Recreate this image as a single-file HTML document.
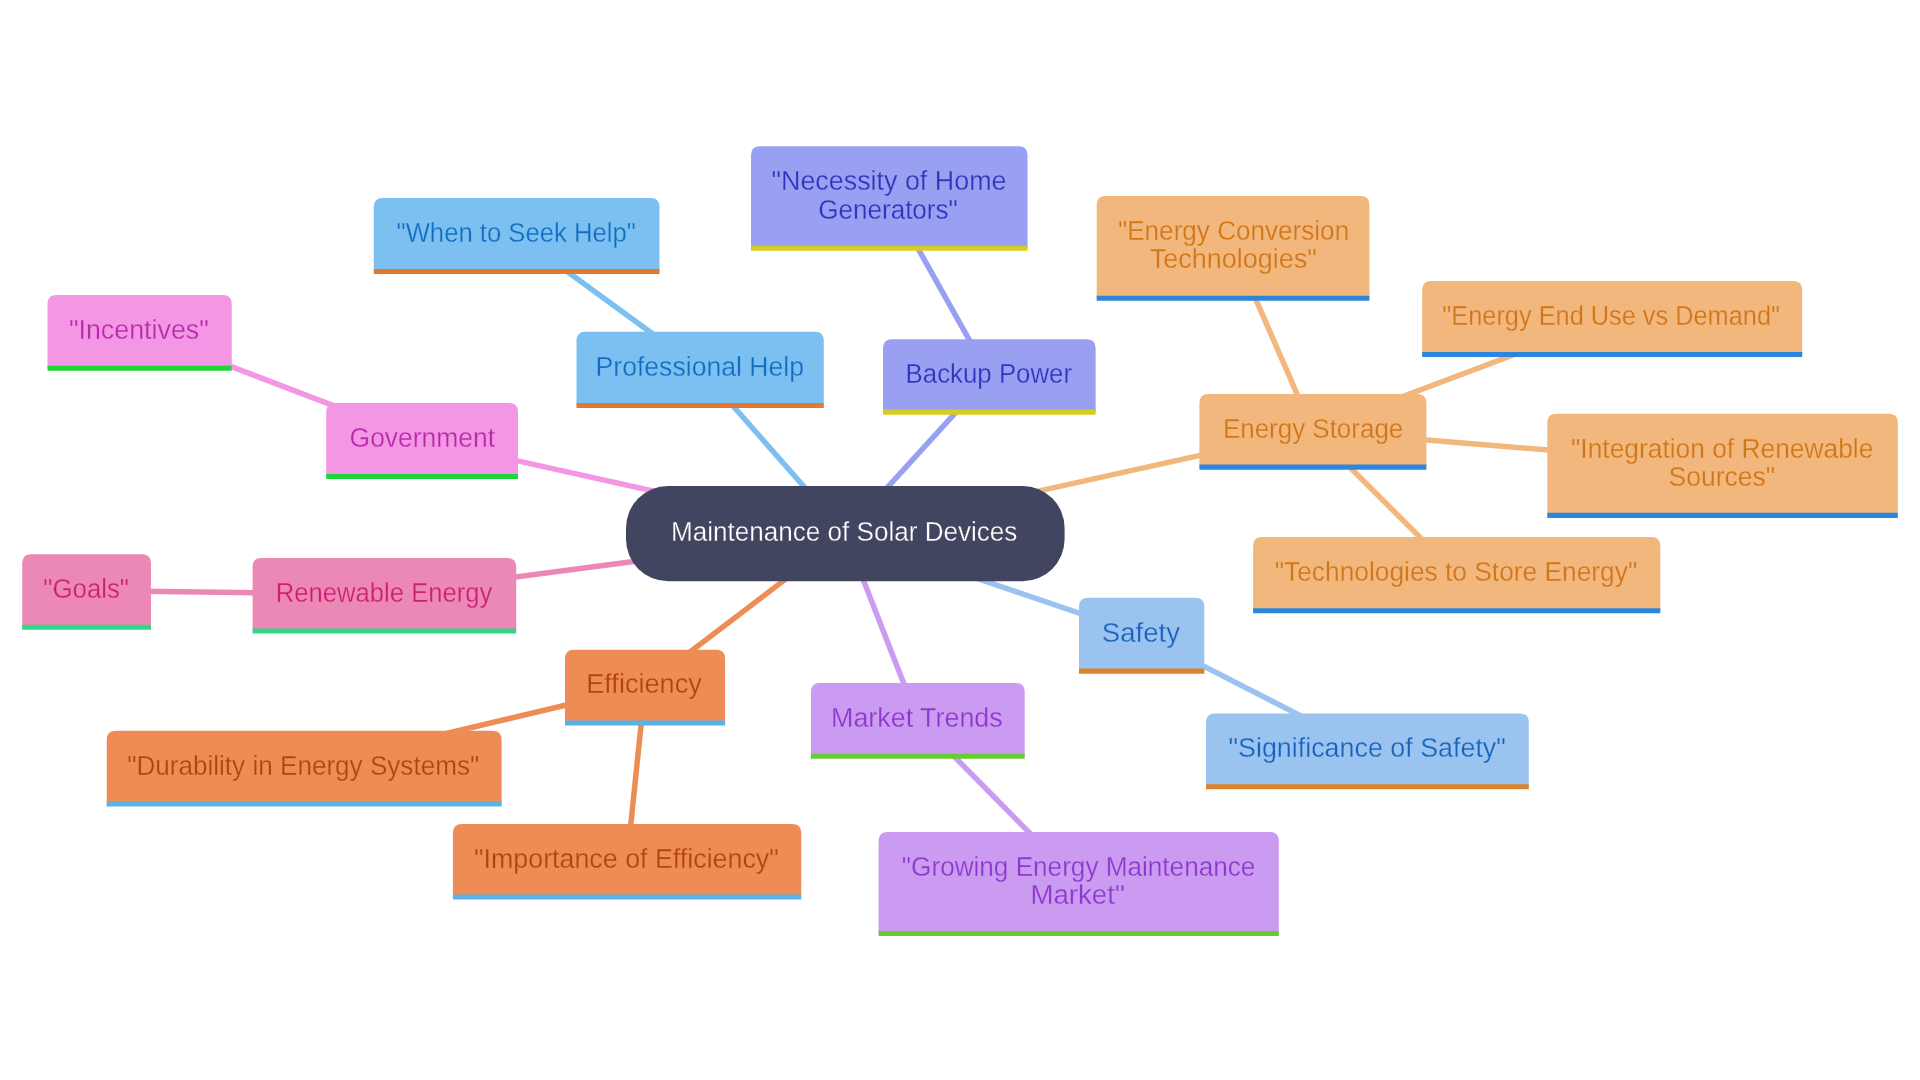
<!DOCTYPE html><html><head><meta charset="utf-8"><style>html,body{margin:0;padding:0;background:#fff;width:1920px;height:1080px;overflow:hidden}svg{display:block;will-change:transform}text{font-family:"Liberation Sans",sans-serif}</style></head><body>
<svg width="1920" height="1080" viewBox="0 0 1920 1080">
<rect width="1920" height="1080" fill="#ffffff"/>
<line x1="422.10" y1="439.62" x2="139.62" y2="331.50" stroke="#F396E3" stroke-width="5.5"/>
<line x1="845.30" y1="533.65" x2="422.10" y2="439.62" stroke="#F396E3" stroke-width="5.5"/>
<line x1="384.40" y1="594.38" x2="86.60" y2="590.60" stroke="#EC88B6" stroke-width="5.5"/>
<line x1="845.30" y1="533.65" x2="384.40" y2="594.38" stroke="#EC88B6" stroke-width="5.5"/>
<line x1="700.12" y1="368.50" x2="516.62" y2="234.62" stroke="#7CC0F2" stroke-width="5.5"/>
<line x1="845.30" y1="533.65" x2="700.12" y2="368.50" stroke="#7CC0F2" stroke-width="5.5"/>
<line x1="989.30" y1="375.57" x2="889.25" y2="197.18" stroke="#9AA0F1" stroke-width="5.5"/>
<line x1="845.30" y1="533.65" x2="989.30" y2="375.57" stroke="#9AA0F1" stroke-width="5.5"/>
<line x1="1312.90" y1="430.42" x2="1233.05" y2="247.07" stroke="#F2B77C" stroke-width="5.5"/>
<line x1="1312.90" y1="430.42" x2="1612.20" y2="317.62" stroke="#F2B77C" stroke-width="5.5"/>
<line x1="845.30" y1="533.65" x2="1312.90" y2="430.42" stroke="#F2B77C" stroke-width="5.5"/>
<line x1="1312.90" y1="430.42" x2="1722.55" y2="464.48" stroke="#F2B77C" stroke-width="5.5"/>
<line x1="1312.90" y1="430.42" x2="1456.70" y2="573.83" stroke="#F2B77C" stroke-width="5.5"/>
<line x1="845.30" y1="533.65" x2="1141.65" y2="634.38" stroke="#9BC3F0" stroke-width="5.5"/>
<line x1="1141.65" y1="634.38" x2="1367.40" y2="749.97" stroke="#9BC3F0" stroke-width="5.5"/>
<line x1="845.30" y1="533.65" x2="917.80" y2="719.58" stroke="#CB9BF1" stroke-width="5.5"/>
<line x1="917.80" y1="719.58" x2="1078.70" y2="882.62" stroke="#CB9BF1" stroke-width="5.5"/>
<line x1="845.30" y1="533.65" x2="645.05" y2="686.25" stroke="#EE8C56" stroke-width="5.5"/>
<line x1="645.05" y1="686.25" x2="304.18" y2="767.25" stroke="#EE8C56" stroke-width="5.5"/>
<line x1="645.05" y1="686.25" x2="627.08" y2="860.42" stroke="#EE8C56" stroke-width="5.5"/>
<rect x="626" y="486" width="438.5999999999999" height="95.29999999999995" rx="42" ry="42" fill="#42455F"/>
<text x="670.97" y="541.25" font-size="27" fill="#ffffff" textLength="346.40" lengthAdjust="spacingAndGlyphs" stroke="#42455F" stroke-width="0.3">Maintenance of Solar Devices</text>
<path d="M47.5 368.00 V304.00 Q47.5,295 56.50,295 H222.75 Q231.75,295 231.75,304.00 V368.00 Z" fill="#F396E3"/>
<line x1="47.5" y1="368.20" x2="231.75" y2="368.20" stroke="#1ED63A" stroke-width="5.1"/>
<text x="69.01" y="339.00" font-size="27" fill="#B82AAC" textLength="139.74" lengthAdjust="spacingAndGlyphs" stroke="#F396E3" stroke-width="0.3">"Incentives"</text>
<path d="M326.2 476.25 V412.00 Q326.2,403 335.20,403 H509.00 Q518,403 518,412.00 V476.25 Z" fill="#F396E3"/>
<line x1="326.2" y1="476.45" x2="518" y2="476.45" stroke="#1ED63A" stroke-width="5.1"/>
<text x="349.62" y="446.80" font-size="27" fill="#B82AAC" textLength="145.44" lengthAdjust="spacingAndGlyphs" stroke="#F396E3" stroke-width="0.3">Government</text>
<path d="M22.2 627.00 V563.20 Q22.2,554.2 31.20,554.2 H142.00 Q151,554.2 151,563.20 V627.00 Z" fill="#EC88B6"/>
<line x1="22.2" y1="627.20" x2="151" y2="627.20" stroke="#33D687" stroke-width="5.1"/>
<text x="43.35" y="598.20" font-size="27" fill="#CC1F73" textLength="85.63" lengthAdjust="spacingAndGlyphs" stroke="#EC88B6" stroke-width="0.3">"Goals"</text>
<path d="M252.6 630.75 V567.00 Q252.6,558 261.60,558 H507.20 Q516.2,558 516.2,567.00 V630.75 Z" fill="#EC88B6"/>
<line x1="252.6" y1="630.95" x2="516.2" y2="630.95" stroke="#33D687" stroke-width="5.1"/>
<text x="275.80" y="602.00" font-size="27" fill="#CC1F73" textLength="216.65" lengthAdjust="spacingAndGlyphs" stroke="#EC88B6" stroke-width="0.3">Renewable Energy</text>
<path d="M373.75 271.25 V207.00 Q373.75,198 382.75,198 H650.50 Q659.5,198 659.5,207.00 V271.25 Z" fill="#7CC0F2"/>
<line x1="373.75" y1="271.45" x2="659.5" y2="271.45" stroke="#E5782F" stroke-width="5.1"/>
<text x="396.55" y="242.00" font-size="27" fill="#126DBE" textLength="239.21" lengthAdjust="spacingAndGlyphs" stroke="#7CC0F2" stroke-width="0.3">"When to Seek Help"</text>
<path d="M576.5 405.25 V340.75 Q576.5,331.75 585.50,331.75 H814.75 Q823.75,331.75 823.75,340.75 V405.25 Z" fill="#7CC0F2"/>
<line x1="576.5" y1="405.45" x2="823.75" y2="405.45" stroke="#E5782F" stroke-width="5.1"/>
<text x="595.53" y="375.75" font-size="27" fill="#126DBE" textLength="208.57" lengthAdjust="spacingAndGlyphs" stroke="#7CC0F2" stroke-width="0.3">Professional Help</text>
<path d="M751 248.05 V155.30 Q751,146.3 760.00,146.3 H1018.50 Q1027.5,146.3 1027.5,155.30 V248.05 Z" fill="#9AA0F1"/>
<line x1="751" y1="248.25" x2="1027.5" y2="248.25" stroke="#D8CC24" stroke-width="5.1"/>
<text x="771.51" y="189.70" font-size="27" fill="#2E33BE" textLength="234.96" lengthAdjust="spacingAndGlyphs" stroke="#9AA0F1" stroke-width="0.3">"Necessity of Home</text>
<text x="818.23" y="218.90" font-size="27" fill="#2E33BE" textLength="139.60" lengthAdjust="spacingAndGlyphs" stroke="#9AA0F1" stroke-width="0.3">Generators"</text>
<path d="M883 411.95 V348.20 Q883,339.2 892.00,339.2 H1086.60 Q1095.6,339.2 1095.6,348.20 V411.95 Z" fill="#9AA0F1"/>
<line x1="883" y1="412.15" x2="1095.6" y2="412.15" stroke="#D8CC24" stroke-width="5.1"/>
<text x="905.59" y="383.20" font-size="27" fill="#2E33BE" textLength="166.50" lengthAdjust="spacingAndGlyphs" stroke="#9AA0F1" stroke-width="0.3">Backup Power</text>
<path d="M1096.7 298.05 V205.10 Q1096.7,196.1 1105.70,196.1 H1360.40 Q1369.4,196.1 1369.4,205.10 V298.05 Z" fill="#F2B77C"/>
<line x1="1096.7" y1="298.25" x2="1369.4" y2="298.25" stroke="#2D86DE" stroke-width="5.1"/>
<text x="1117.93" y="239.80" font-size="27" fill="#D07518" textLength="231.23" lengthAdjust="spacingAndGlyphs" stroke="#F2B77C" stroke-width="0.3">"Energy Conversion</text>
<text x="1149.80" y="267.70" font-size="27" fill="#D07518" textLength="167.00" lengthAdjust="spacingAndGlyphs" stroke="#F2B77C" stroke-width="0.3">Technologies"</text>
<path d="M1422.2 354.25 V290.00 Q1422.2,281 1431.20,281 H1793.20 Q1802.2,281 1802.2,290.00 V354.25 Z" fill="#F2B77C"/>
<line x1="1422.2" y1="354.45" x2="1802.2" y2="354.45" stroke="#2D86DE" stroke-width="5.1"/>
<text x="1442.36" y="325.00" font-size="27" fill="#D07518" textLength="337.63" lengthAdjust="spacingAndGlyphs" stroke="#F2B77C" stroke-width="0.3">"Energy End Use vs Demand"</text>
<path d="M1199.4 466.95 V402.90 Q1199.4,393.9 1208.40,393.9 H1417.40 Q1426.4,393.9 1426.4,402.90 V466.95 Z" fill="#F2B77C"/>
<line x1="1199.4" y1="467.15" x2="1426.4" y2="467.15" stroke="#2D86DE" stroke-width="5.1"/>
<text x="1222.88" y="438.00" font-size="27" fill="#D07518" textLength="180.39" lengthAdjust="spacingAndGlyphs" stroke="#F2B77C" stroke-width="0.3">Energy Storage</text>
<path d="M1547.3 515.15 V422.80 Q1547.3,413.8 1556.30,413.8 H1888.80 Q1897.8,413.8 1897.8,422.80 V515.15 Z" fill="#F2B77C"/>
<line x1="1547.3" y1="515.35" x2="1897.8" y2="515.35" stroke="#2D86DE" stroke-width="5.1"/>
<text x="1571.02" y="457.90" font-size="27" fill="#D07518" textLength="302.35" lengthAdjust="spacingAndGlyphs" stroke="#F2B77C" stroke-width="0.3">"Integration of Renewable</text>
<text x="1668.52" y="485.90" font-size="27" fill="#D07518" textLength="106.71" lengthAdjust="spacingAndGlyphs" stroke="#F2B77C" stroke-width="0.3">Sources"</text>
<path d="M1253.1 610.55 V546.10 Q1253.1,537.1 1262.10,537.1 H1651.30 Q1660.3,537.1 1660.3,546.10 V610.55 Z" fill="#F2B77C"/>
<line x1="1253.1" y1="610.75" x2="1660.3" y2="610.75" stroke="#2D86DE" stroke-width="5.1"/>
<text x="1274.73" y="581.10" font-size="27" fill="#D07518" textLength="362.54" lengthAdjust="spacingAndGlyphs" stroke="#F2B77C" stroke-width="0.3">"Technologies to Store Energy"</text>
<path d="M1079 670.95 V606.80 Q1079,597.8 1088.00,597.8 H1195.30 Q1204.3,597.8 1204.3,606.80 V670.95 Z" fill="#9BC3F0"/>
<line x1="1079" y1="671.15" x2="1204.3" y2="671.15" stroke="#D8822A" stroke-width="5.1"/>
<text x="1101.88" y="641.80" font-size="27" fill="#1862BC" textLength="78.18" lengthAdjust="spacingAndGlyphs" stroke="#9BC3F0" stroke-width="0.3">Safety</text>
<path d="M1206 786.55 V722.40 Q1206,713.4 1215.00,713.4 H1519.80 Q1528.8,713.4 1528.8,722.40 V786.55 Z" fill="#9BC3F0"/>
<line x1="1206" y1="786.75" x2="1528.8" y2="786.75" stroke="#D8822A" stroke-width="5.1"/>
<text x="1228.51" y="757.40" font-size="27" fill="#1862BC" textLength="277.32" lengthAdjust="spacingAndGlyphs" stroke="#9BC3F0" stroke-width="0.3">"Significance of Safety"</text>
<path d="M810.9 756.05 V692.10 Q810.9,683.1 819.90,683.1 H1015.70 Q1024.7,683.1 1024.7,692.10 V756.05 Z" fill="#CB9BF1"/>
<line x1="810.9" y1="756.25" x2="1024.7" y2="756.25" stroke="#66CC33" stroke-width="5.1"/>
<text x="831.01" y="727.10" font-size="27" fill="#8C38CC" textLength="171.75" lengthAdjust="spacingAndGlyphs" stroke="#CB9BF1" stroke-width="0.3">Market Trends</text>
<path d="M878.6 933.35 V840.90 Q878.6,831.9 887.60,831.9 H1269.80 Q1278.8,831.9 1278.8,840.90 V933.35 Z" fill="#CB9BF1"/>
<line x1="878.6" y1="933.55" x2="1278.8" y2="933.55" stroke="#66CC33" stroke-width="5.1"/>
<text x="901.83" y="875.90" font-size="27" fill="#8C38CC" textLength="353.51" lengthAdjust="spacingAndGlyphs" stroke="#CB9BF1" stroke-width="0.3">"Growing Energy Maintenance</text>
<text x="1030.45" y="903.80" font-size="27" fill="#8C38CC" textLength="94.28" lengthAdjust="spacingAndGlyphs" stroke="#CB9BF1" stroke-width="0.3">Market"</text>
<path d="M565 722.75 V658.75 Q565,649.75 574.00,649.75 H716.10 Q725.1,649.75 725.1,658.75 V722.75 Z" fill="#EE8C56"/>
<line x1="565" y1="722.95" x2="725.1" y2="722.95" stroke="#58B2E6" stroke-width="5.1"/>
<text x="586.19" y="692.80" font-size="27" fill="#B0440A" textLength="115.67" lengthAdjust="spacingAndGlyphs" stroke="#EE8C56" stroke-width="0.3">Efficiency</text>
<path d="M106.75 803.75 V739.75 Q106.75,730.75 115.75,730.75 H492.60 Q501.6,730.75 501.6,739.75 V803.75 Z" fill="#EE8C56"/>
<line x1="106.75" y1="803.95" x2="501.6" y2="803.95" stroke="#58B2E6" stroke-width="5.1"/>
<text x="127.13" y="774.75" font-size="27" fill="#B0440A" textLength="352.12" lengthAdjust="spacingAndGlyphs" stroke="#EE8C56" stroke-width="0.3">"Durability in Energy Systems"</text>
<path d="M452.9 896.75 V833.10 Q452.9,824.1 461.90,824.1 H792.25 Q801.25,824.1 801.25,833.10 V896.75 Z" fill="#EE8C56"/>
<line x1="452.9" y1="896.95" x2="801.25" y2="896.95" stroke="#58B2E6" stroke-width="5.1"/>
<text x="474.01" y="868.10" font-size="27" fill="#B0440A" textLength="304.80" lengthAdjust="spacingAndGlyphs" stroke="#EE8C56" stroke-width="0.3">"Importance of Efficiency"</text>
</svg></body></html>
